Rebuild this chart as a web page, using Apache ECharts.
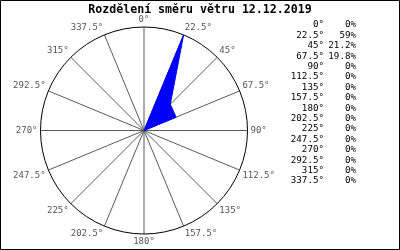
<!DOCTYPE html>
<html><head><meta charset="utf-8">
<script src="https://cdn.jsdelivr.net/npm/echarts@6/dist/echarts.min.js"></script>
<style>html,body{margin:0;padding:0;background:#fff}#c{width:400px;height:250px}</style>
</head><body><div id="c"></div>
<script>
const chartTitle = 'Rozdělení směru větru 12.12.2019';
const directions = [0, 22.5, 45, 67.5, 90, 112.5, 135, 157.5, 180, 202.5, 225, 247.5, 270, 292.5, 315, 337.5];
const percents = [0, 59, 21.2, 19.8, 0, 0, 0, 0, 0, 0, 0, 0, 0, 0, 0, 0];

const mono = 'DejaVu Sans Mono';
const seriesData = directions.map((d, i) => [percents[i], d]);
seriesData.push([percents[0], 360]);

const graphics = [
  {type: 'rect', shape: {x: 0.5, y: 0.5, width: 399, height: 249}, style: {fill: 'none', stroke: '#000', lineWidth: 1}, silent: true},
  {type: 'text', x: 200, y: 9.5, style: {text: chartTitle, font: 'bold 11.6px "' + mono + '"', fill: '#000', textAlign: 'center', textVerticalAlign: 'middle'}}
];
directions.forEach((d, i) => {
  const y = 25 + i * 10.4;
  graphics.push({type: 'text', x: 324, y: y, style: {text: d + '°', font: '9.2px "' + mono + '"', fill: '#000', textAlign: 'right', textVerticalAlign: 'middle'}});
  graphics.push({type: 'text', x: 356, y: y, style: {text: percents[i] + '%', font: '9.2px "' + mono + '"', fill: '#000', textAlign: 'right', textVerticalAlign: 'middle'}});
});

const chart = echarts.init(document.getElementById('c'), null, {renderer: 'canvas'});
chart.setOption({
  animation: false,
  backgroundColor: '#fff',
  polar: {center: [144, 130.5], radius: 103.5},
  angleAxis: {
    type: 'value', min: 0, max: 360, interval: 22.5, startAngle: 90, clockwise: true,
    axisLine: {show: true, lineStyle: {color: '#000', width: 1}},
    axisTick: {show: false},
    splitLine: {show: true, lineStyle: {color: '#5a5a5a', width: 1}},
    axisLabel: {color: '#555', fontFamily: mono, fontSize: 9, margin: 3,
      formatter: v => (v >= 360 ? '' : v + '°')}
  },
  radiusAxis: {
    type: 'value', min: 0, max: Math.max(...percents),
    axisLine: {show: false}, axisTick: {show: false}, axisLabel: {show: false}, splitLine: {show: false}
  },
  series: [{
    type: 'line', coordinateSystem: 'polar', data: seriesData, symbol: 'none', silent: true,
    lineStyle: {color: '#0000ff', width: 1}, areaStyle: {color: '#0000ff', opacity: 1}
  }],
  graphic: graphics
});
</script></body></html>
